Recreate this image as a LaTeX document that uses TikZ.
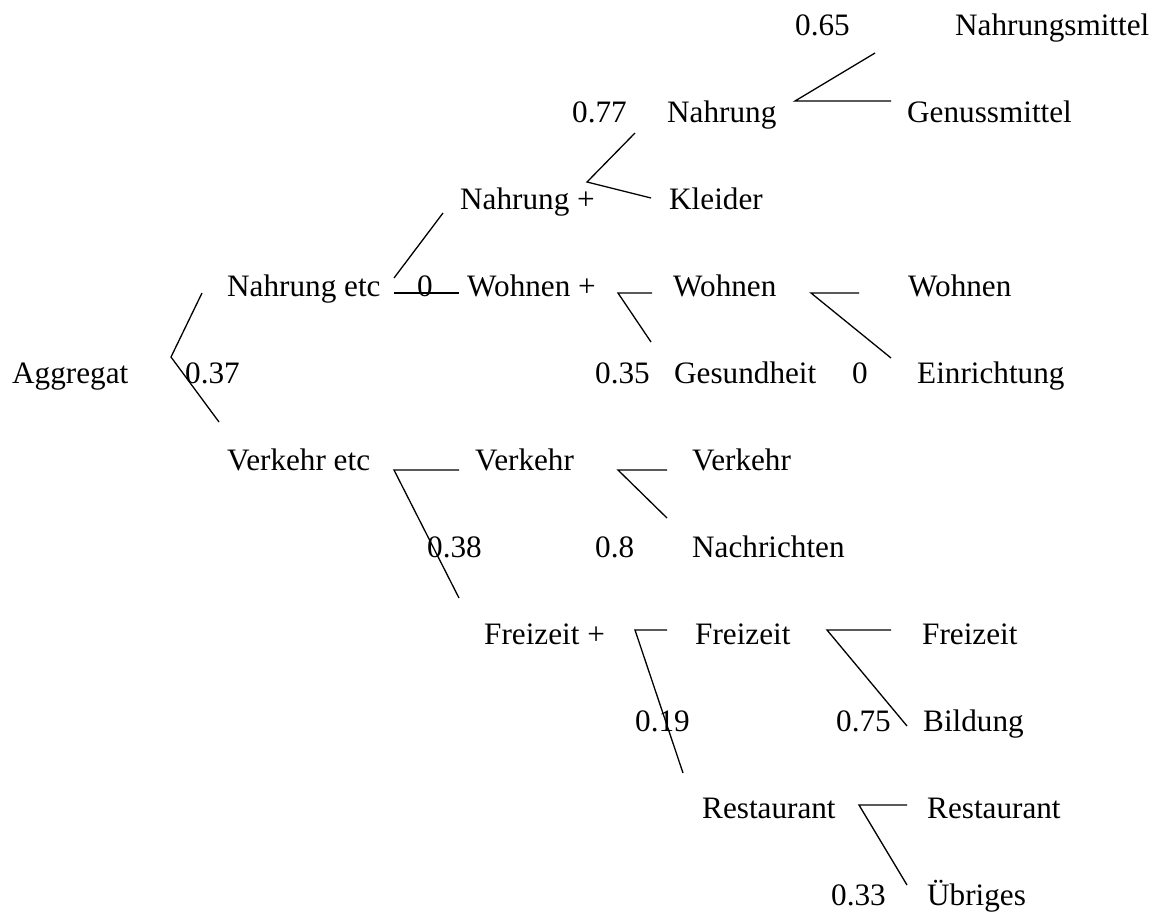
\documentclass[tikz,border=0pt]{standalone}
\usepackage{fontspec}
\setmainfont{Liberation Serif}
\usepackage{tikz}

\begin{document}
\begin{tikzpicture}[x=1pt, y=-1pt,
    lbl/.style={anchor=base west, inner sep=0pt, font=\fontsize{31.2}{37}\selectfont},
    ast/.style={line width=1.3pt}]
            \useasboundingbox (0,0) rectangle (1160,914);
            % Stufe 0 und 1
            \node[lbl] (aggregat) at (12,383) {Aggregat};
            \node[lbl] (w037) at (185,383) {0.37};
            \node[lbl] (nahrungetc) at (227,296) {Nahrung etc};
            \node[lbl] (w0a) at (417,296) {0};
            \node[lbl] (verkehretc) at (227,470) {Verkehr etc};
            \node[lbl] (w038) at (427,557) {0.38};
            % Stufe 2
            \node[lbl] (nahrungplus) at (460,209) {Nahrung +};
            \node[lbl] (wohnenplus) at (467,296) {Wohnen +};
            \node[lbl] (verkehrB) at (475,470) {Verkehr};
            \node[lbl] (freizeitplus) at (484,644) {Freizeit +};
            \node[lbl] (w077) at (572,122) {0.77};
            \node[lbl] (w035) at (595,383) {0.35};
            \node[lbl] (w08) at (595,557) {0.8};
            \node[lbl] (w019) at (635,731) {0.19};
            % Stufe 3
            \node[lbl] (nahrungB) at (667,122) {Nahrung};
            \node[lbl] (kleider) at (669,209) {Kleider};
            \node[lbl] (wohnenB) at (673,296) {Wohnen};
            \node[lbl] (gesundheit) at (674,383) {Gesundheit};
            \node[lbl] (verkehrC) at (692,470) {Verkehr};
            \node[lbl] (nachrichten) at (692,557) {Nachrichten};
            \node[lbl] (freizeitB) at (695,644) {Freizeit};
            \node[lbl] (restaurantB) at (702,818) {Restaurant};
            \node[lbl] (w065) at (795,35) {0.65};
            \node[lbl] (w0b) at (852,383) {0};
            \node[lbl] (w075) at (836,731) {0.75};
            \node[lbl] (w033) at (831,905) {0.33};
            % Stufe 4
            \node[lbl] (nahrungsmittel) at (955,35) {Nahrungsmittel};
            \node[lbl] (genussmittel) at (907,122) {Genussmittel};
            \node[lbl] (wohnenC) at (908,296) {Wohnen};
            \node[lbl] (einrichtung) at (917,383) {Einrichtung};
            \node[lbl] (freizeitC) at (922,644) {Freizeit};
            \node[lbl] (bildung) at (923,731) {Bildung};
            \node[lbl] (restaurantC) at (927,818) {Restaurant};
            \node[lbl] (uebriges) at (927,905) {Übriges};
            % Gabeln
            \coordinate (aggO) at (202,293);  \coordinate (aggM) at (171,357);  \coordinate (aggU) at (219,422);
            \coordinate (netO) at (443,213);  \coordinate (netU) at (394,278);
            \coordinate (netA) at (394,293);  \coordinate (netB) at (459,293);
            \coordinate (vetO) at (459,470);  \coordinate (vetM) at (394,470);  \coordinate (vetU) at (459,598);
            \coordinate (npO) at (635,133);   \coordinate (npM) at (587,182);   \coordinate (npU) at (651,198);
            \coordinate (naO) at (875,53);    \coordinate (naM) at (795,101);   \coordinate (naU) at (891,101);
            \coordinate (wpO) at (652,293);   \coordinate (wpM) at (618,293);   \coordinate (wpU) at (651,342);
            \coordinate (woO) at (859,293);   \coordinate (woM) at (811,293);   \coordinate (woU) at (891,358);
            \coordinate (veO) at (667,470);   \coordinate (veM) at (618,470);   \coordinate (veU) at (667,518);
            \coordinate (fpO) at (667,630);   \coordinate (fpM) at (635,630);   \coordinate (fpU) at (683,773);
            \coordinate (frO) at (891,630);   \coordinate (frM) at (827,630);   \coordinate (frU) at (907,726);
            \coordinate (reO) at (907,805);   \coordinate (reM) at (859,805);   \coordinate (reU) at (907,885);
            \draw[ast] (aggO) -- (aggM) -- (aggU);
            \draw[ast] (netO) -- (netU);
            \draw[ast] (netA) -- (netB);
            \draw[ast] (vetO) -- (vetM) -- (vetU);
            \draw[ast] (npO) -- (npM) -- (npU);
            \draw[ast] (naO) -- (naM) -- (naU);
            \draw[ast] (wpO) -- (wpM) -- (wpU);
            \draw[ast] (woO) -- (woM) -- (woU);
            \draw[ast] (veO) -- (veM) -- (veU);
            \draw[ast] (fpO) -- (fpM) -- (fpU);
            \draw[ast] (frO) -- (frM) -- (frU);
            \draw[ast] (reO) -- (reM) -- (reU);
\end{tikzpicture}
\end{document}
